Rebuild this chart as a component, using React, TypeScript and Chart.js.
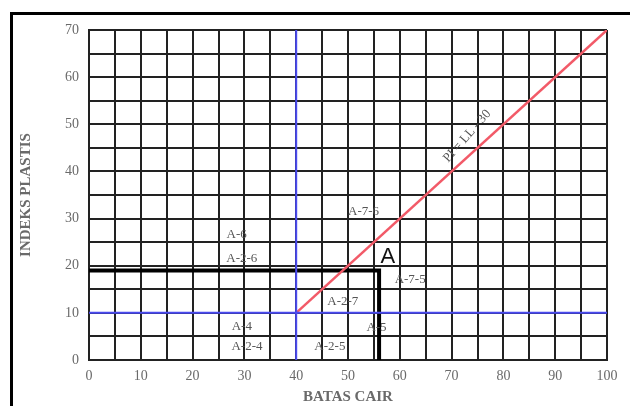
import React, { useEffect, useRef } from "react";
import { Chart, registerables } from "chart.js";

Chart.register(...registerables);

// Axis ranges / ticks
const xMin = 0, xMax = 100, xStep = 5;
const yMin = 0, yMax = 70, yStep = 5;

// Boundary lines
const blueVertical = [{ x: 40, y: 0 }, { x: 40, y: 70 }];
const blueHorizontal = [{ x: 0, y: 10 }, { x: 100, y: 10 }];
const redLine = [{ x: 40, y: 10 }, { x: 100, y: 70 }];
const sampleLine = [{ x: 0, y: 19 }, { x: 56, y: 19 }, { x: 56, y: 0 }];

// Zone labels
const zoneLabels = ["A-6", "A-2-6", "A-4", "A-2-4", "A-2-5", "A-5", "A-2-7", "A-7-5", "A-7-6"];
const zoneX = [28.5, 29.5, 29.5, 30.5, 46.5, 55.5, 49, 62, 53];
const zoneY = [26.5, 21.5, 7, 2.8, 2.8, 6.8, 12.3, 17, 31.5];

const pointLabel = "A";
const pointX = [57.7];
const pointY = [21.8];

const lineLabel = "PI = LL - 30";
const lineLabelX = [73];
const lineLabelY = [47.5];

const xTitle = "BATAS CAIR";
const yTitle = "INDEKS PLASTIS";

const SERIF = "'Liberation Serif', 'DejaVu Serif', serif";

const labelPlugin = {
  id: "zoneLabels",
  afterDatasetsDraw(chart: any) {
    const { ctx, scales } = chart;
    const xs = scales.x, ys = scales.y;
    ctx.save();
    ctx.textAlign = "center";
    ctx.textBaseline = "middle";
    ctx.fillStyle = "#555";
    ctx.font = `13px ${SERIF}`;
    zoneLabels.forEach((t, i) => {
      ctx.fillText(t, xs.getPixelForValue(zoneX[i]), ys.getPixelForValue(zoneY[i]));
    });
    ctx.fillStyle = "#111";
    ctx.font = `22px 'Liberation Sans', sans-serif`;
    ctx.fillText(pointLabel, xs.getPixelForValue(pointX[0]), ys.getPixelForValue(pointY[0]));
    ctx.fillStyle = "#555";
    ctx.font = `13px ${SERIF}`;
    ctx.translate(xs.getPixelForValue(lineLabelX[0]), ys.getPixelForValue(lineLabelY[0]));
    ctx.rotate(-0.85);
    ctx.fillText(lineLabel, 0, 0);
    ctx.restore();
  },
};

export default function App() {
  const ref = useRef<HTMLCanvasElement>(null);
  useEffect(() => {
    const canvas = ref.current!;
    const chart = new Chart(canvas, {
      type: "scatter",
      data: {
        datasets: [
          { data: blueHorizontal, showLine: true, borderColor: "#4a4af0", borderWidth: 2, pointRadius: 0 },
          { data: blueVertical, showLine: true, borderColor: "#4a4af0", borderWidth: 2, pointRadius: 0 },
          { data: redLine, showLine: true, borderColor: "#f25a68", borderWidth: 2.5, pointRadius: 0 },
          { data: sampleLine, showLine: true, borderColor: "#000", borderWidth: 4, pointRadius: 0, borderJoinStyle: "miter" },
        ],
      },
      options: {
        animation: false,
        responsive: false,
        maintainAspectRatio: false,
        layout: { padding: { left: 0, right: 23, top: 30, bottom: 0 } },
        plugins: { legend: { display: false }, tooltip: { enabled: false } },
        scales: {
          x: {
            type: "linear",
            min: xMin,
            max: xMax,
            afterFit: (s: any) => { s.height = 46; },
            ticks: {
              stepSize: xStep,
              autoSkip: false,
              maxRotation: 0,
              padding: 8,
              color: "#6a6a6a",
              font: { family: SERIF, size: 14 },
              callback: (v: any) => (Number(v) % 10 === 0 ? String(v) : ""),
            },
            grid: { color: "#222", lineWidth: 2, drawTicks: false },
            border: { color: "#222", width: 2 },
            title: {
              display: true,
              text: xTitle,
              color: "#6a6a6a",
              font: { family: SERIF, size: 15, weight: "bold" },
              padding: { top: 0, bottom: 0 },
            },
          },
          y: {
            type: "linear",
            min: yMin,
            max: yMax,
            afterFit: (s: any) => { s.width = 89; },
            ticks: {
              stepSize: yStep,
              autoSkip: false,
              padding: 10,
              color: "#6a6a6a",
              font: { family: SERIF, size: 14 },
              callback: (v: any) => (Number(v) % 10 === 0 ? String(v) : ""),
            },
            grid: { color: "#222", lineWidth: 2, drawTicks: false },
            border: { color: "#222", width: 2 },
            title: {
              display: true,
              text: yTitle,
              color: "#6a6a6a",
              font: { family: SERIF, size: 15, weight: "bold" },
              padding: { top: 17, bottom: 0 },
            },
          },
        },
      },
      plugins: [labelPlugin],
    });
    return () => chart.destroy();
  }, []);

  return (
    <div style={{ position: "fixed", left: 0, top: 0, width: 630, height: 406, background: "#fff", overflow: "hidden" }}>
      <div
        style={{
          position: "absolute",
          left: 10,
          top: 12,
          width: 630,
          height: 400,
          borderTop: "3px solid #000",
          borderLeft: "3px solid #000",
        }}
      />
      <canvas ref={ref} width={630} height={406} style={{ position: "absolute", left: 0, top: 0 }} />
    </div>
  );
}
